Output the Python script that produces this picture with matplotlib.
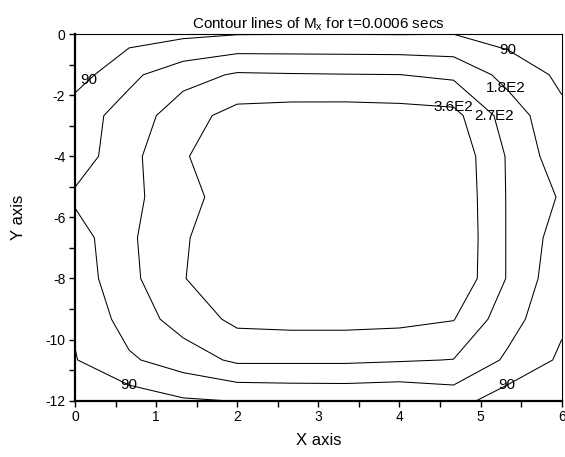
import numpy as np
import matplotlib.pyplot as plt
from matplotlib.ticker import MultipleLocator

plt.rcParams['font.family'] = ['Liberation Sans', 'DejaVu Sans']
plt.rcParams['axes.unicode_minus'] = False

# grid nodes
x = [0, 0.667, 1.333, 2, 2.667, 3.333, 4, 4.667, 5.333, 6]
y = [0, -1.333, -2.667, -4, -5.333, -6.667, -8, -9.333, -10.667, -12]

# M_x values, one row per y node (top to bottom)
mx_row0 = [20, 53.5, 71.8, 87.1, 88.6, 88.6, 87.3, 89.5, 52.7, 20]
mx_row1 = [50, 161, 233.8, 280.6, 276, 273, 271, 252, 150, 72]
mx_row2 = [140, 215, 324, 391, 402, 404, 398, 388, 230, 109]
mx_row3 = [131, 243.4, 352, 420, 445, 450, 445, 428, 262, 124.5]
mx_row4 = [195.5, 249.6, 320, 420, 450, 455, 450, 435, 264, 170]
mx_row5 = [138, 255.2, 351, 420, 450, 455, 450, 440, 264, 136]
mx_row6 = [129, 246.3, 356.5, 420, 445, 450, 445, 435, 264, 115]
mx_row7 = [99.4, 218.8, 307.8, 380.8, 387.5, 387.5, 382.7, 363.4, 216.6, 105]
mx_row8 = [86, 167.6, 225, 286.4, 285.8, 285.5, 277.3, 268, 165, 75]
mx_row9 = [20, 42, 80, 92.9, 100.2, 103, 95.5, 125, 42, 20]

levels = [90, 180, 270, 360]
level_text = ['90', '1.8E2', '2.7E2', '3.6E2']
label_pos = [(0.12, -1.35), (5.34, -0.45), (5.34, -1.7), (5.16, -2.7),
             (4.66, -2.35), (0.66, -11.5), (5.33, -11.5)]

Z = np.array([mx_row0, mx_row1, mx_row2, mx_row3, mx_row4,
              mx_row5, mx_row6, mx_row7, mx_row8, mx_row9])
X, Y = np.meshgrid(x, y)

fig = plt.figure(figsize=(5.65, 4.57), dpi=100)
ax = fig.add_axes([0.1327, 0.1232, 0.8615, 0.8022])

cs = ax.contour(X, Y, Z, levels=levels, colors='k', linewidths=0.75)
ax.set_xlim(0, 6)
ax.set_ylim(-12, 0)

labels = ax.clabel(cs, inline=False, fontsize=11, manual=label_pos,
                   fmt=dict(zip(levels, level_text)))
for t in labels:
    t.set_rotation(0)

ax.xaxis.set_major_locator(MultipleLocator(1))
ax.xaxis.set_minor_locator(MultipleLocator(0.5))
ax.yaxis.set_major_locator(MultipleLocator(2))
ax.yaxis.set_minor_locator(MultipleLocator(1))
ax.tick_params(which='both', direction='out', length=4, width=1, labelsize=10)
ax.tick_params(which='major', pad=3)

ax.spines['left'].set_linewidth(1.6)
ax.spines['bottom'].set_linewidth(1.6)
ax.spines['top'].set_linewidth(0.8)
ax.spines['right'].set_linewidth(0.8)

ax.set_title('Contour lines of M$_\\mathregular{x}$ for t=0.0006 secs', fontsize=11, pad=4)
ax.set_xlabel('X axis', fontsize=12, labelpad=6)
ax.set_ylabel('Y axis', fontsize=12, labelpad=14)

fig.savefig('out.png')
